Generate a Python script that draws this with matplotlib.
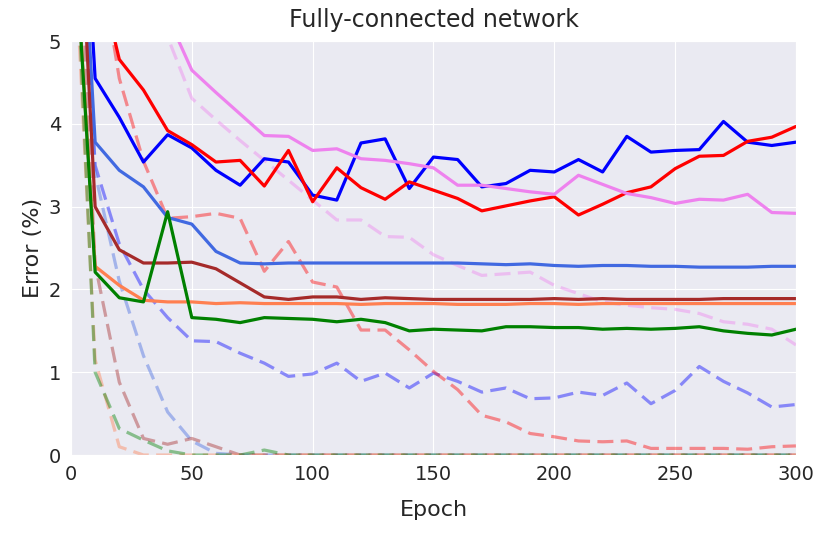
import numpy as np
import matplotlib
matplotlib.use("Agg")
from matplotlib import pyplot as plt
import seaborn as sns

epochs = np.arange(0, 301, 10)

# solid lines
blue = [9.5, 4.55, 4.08, 3.54, 3.87, 3.71, 3.44, 3.26, 3.58, 3.54, 3.14, 3.08, 3.77, 3.82, 3.22, 3.60,
        3.57, 3.24, 3.28, 3.44, 3.42, 3.57, 3.42, 3.85, 3.66, 3.68, 3.69, 4.03, 3.78, 3.74, 3.78]
red = [9.0, 6.0, 4.78, 4.41, 3.92, 3.75, 3.54, 3.56, 3.25, 3.68, 3.06, 3.47, 3.23, 3.09, 3.30, 3.20,
       3.10, 2.95, 3.01, 3.07, 3.12, 2.90, 3.03, 3.17, 3.24, 3.46, 3.61, 3.62, 3.79, 3.84, 3.97]
violet = [12.0, 10.0, 8.0, 6.3, 5.3, 4.65, 4.38, 4.12, 3.86, 3.85, 3.68, 3.70, 3.58, 3.56, 3.52, 3.47,
          3.26, 3.26, 3.22, 3.18, 3.15, 3.38, 3.27, 3.16, 3.11, 3.04, 3.09, 3.08, 3.15, 2.93, 2.92]
royal = [9.0, 3.78, 3.44, 3.24, 2.87, 2.79, 2.46, 2.32, 2.31, 2.32, 2.32, 2.32, 2.32, 2.32, 2.32, 2.32,
         2.32, 2.31, 2.30, 2.31, 2.29, 2.28, 2.29, 2.29, 2.28, 2.28, 2.27, 2.27, 2.27, 2.28, 2.28]
brown = [8.7, 3.0, 2.48, 2.32, 2.32, 2.33, 2.25, 2.08, 1.91, 1.88, 1.91, 1.91, 1.88, 1.90, 1.89, 1.88,
         1.88, 1.88, 1.88, 1.88, 1.89, 1.88, 1.89, 1.88, 1.88, 1.88, 1.88, 1.89, 1.89, 1.89, 1.89]
coral = [7.0, 2.28, 2.05, 1.87, 1.85, 1.85, 1.83, 1.84, 1.83, 1.83, 1.83, 1.83, 1.82, 1.83, 1.83, 1.83,
         1.82, 1.82, 1.82, 1.83, 1.83, 1.82, 1.83, 1.83, 1.83, 1.83, 1.83, 1.83, 1.83, 1.83, 1.83]
green = [7.0, 2.21, 1.90, 1.85, 2.94, 1.66, 1.64, 1.60, 1.66, 1.65, 1.64, 1.61, 1.64, 1.60, 1.50, 1.52,
         1.51, 1.50, 1.55, 1.55, 1.54, 1.54, 1.52, 1.53, 1.52, 1.53, 1.55, 1.50, 1.47, 1.45, 1.52]

# dashed lines
blue_d = [9.0, 3.5, 2.55, 2.0, 1.66, 1.38, 1.37, 1.23, 1.11, 0.95, 0.98, 1.11, 0.89, 0.99, 0.81, 0.99,
          0.89, 0.76, 0.81, 0.68, 0.69, 0.76, 0.72, 0.87, 0.62, 0.78, 1.07, 0.89, 0.75, 0.58, 0.61]
red_d = [9.0, 6.35, 4.55, 3.55, 2.86, 2.88, 2.92, 2.86, 2.22, 2.58, 2.09, 2.03, 1.51, 1.51, 1.27, 1.01,
         0.79, 0.48, 0.40, 0.26, 0.22, 0.17, 0.16, 0.17, 0.08, 0.08, 0.08, 0.08, 0.07, 0.10, 0.11]
violet_d = [12.0, 10.0, 8.5, 7.0, 5.05, 4.31, 4.05, 3.80, 3.56, 3.32, 3.08, 2.84, 2.84, 2.64, 2.63, 2.42,
            2.29, 2.17, 2.19, 2.21, 2.05, 1.95, 1.85, 1.81, 1.78, 1.76, 1.71, 1.61, 1.58, 1.52, 1.33]
royal_d = [9.0, 3.4, 2.1, 1.2, 0.52, 0.17, 0.02] + [0.0] * 24
brown_d = [8.5, 2.3, 0.88, 0.2, 0.13, 0.2, 0.1] + [0.0] * 24
coral_d = [7.0, 1.15, 0.1] + [0.0] * 28
green_d = [7.5, 1.0, 0.32, 0.18, 0.05, 0.0, 0.0, 0.0, 0.06] + [0.0] * 22

sns.set_style("darkgrid")
plt.rcParams['font.family'] = ['DejaVu Sans']

fig = plt.figure(figsize=(8.3, 5.35), dpi=100)
ax = fig.add_axes([0.0855, 0.1495, 0.8735, 0.7735])

lw = 2.3
dashed = [(blue_d, "blue"), (red_d, "red"), (violet_d, "violet"), (royal_d, "royalblue"),
          (brown_d, "brown"), (coral_d, "coral"), (green_d, "green")]
solid = [(blue, "blue"), (red, "red"), (violet, "violet"), (royal, "royalblue"),
         (brown, "brown"), (coral, "coral"), (green, "green")]

for vals, c in dashed:
    ax.plot(epochs, vals, color=c, alpha=0.42, lw=lw, dashes=(5, 2.3))
for vals, c in solid:
    ax.plot(epochs, vals, color=c, lw=lw)

ax.set_xlim(0, 300)
ax.set_ylim(0, 5)
ax.set_xticks(np.arange(0, 301, 50))
ax.set_yticks(np.arange(0, 6, 1))
ax.tick_params(labelsize=14)
ax.set_xlabel("Epoch", fontsize=16, labelpad=12)
ax.set_ylabel("Error (%)", fontsize=16)
ax.set_title("Fully-connected network", fontsize=17, pad=10)

fig.savefig("out.png", dpi=100)
